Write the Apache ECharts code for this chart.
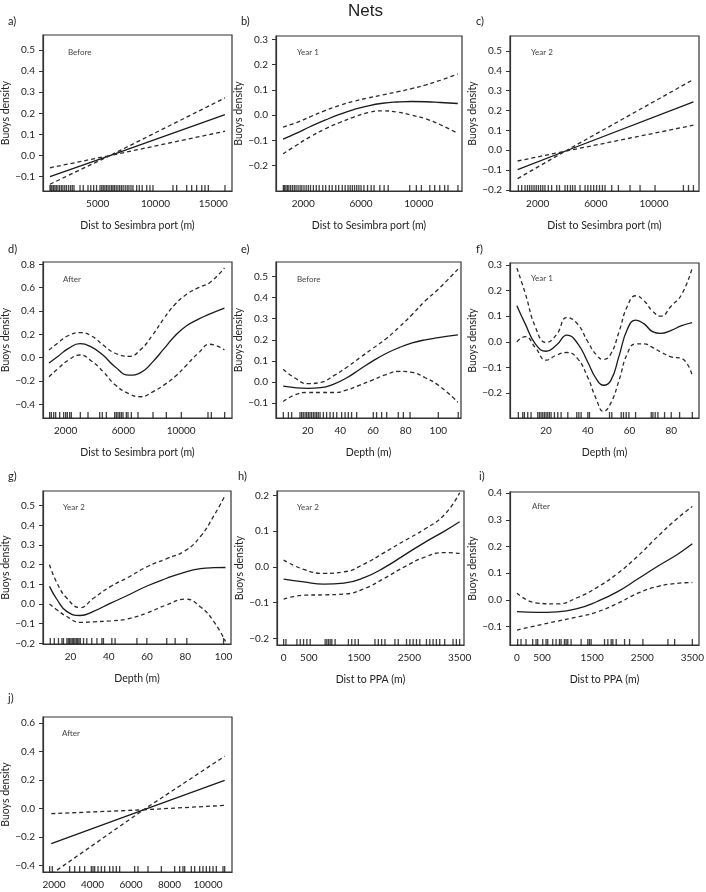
<!DOCTYPE html>
<html>
<head>
<meta charset="utf-8">
<title>Nets</title>
<script src="https://cdn.jsdelivr.net/npm/echarts@6/dist/echarts.min.js"></script>
<style>
  html, body { margin: 0; padding: 0; background: #fff; }
  #chart { width: 706px; height: 892px; }
</style>
</head>
<body>
<div id="chart"></div>
<script>
// ---- a) Dist to Sesimbra port, Before ----
const aX   = [870, 6060, 16010];
const aFit = [-0.100, 0.000, 0.194];
const aHi  = [-0.058, 0.000, 0.273];
const aLo  = [-0.136, 0.000, 0.115];
const aRug = [874, 960, 1050, 1180, 1300, 1420, 1560, 1700, 1850, 1990, 2150, 2300, 2480, 2650, 2800, 2950,
  3470, 3750, 4160, 4400, 4650, 4900, 5200, 5350, 5480, 5620, 5760, 5900, 6050, 6200, 6320, 6450, 6600,
  6750, 6900, 7050, 7200, 7380, 7550, 7700, 7880, 8050, 8370, 8600, 8850, 9240, 9520, 9780, 11510, 11830,
  12700, 13130, 13560, 14000, 14280, 14570, 16010];
const aXTicks = [5000, 10000, 15000];
const aYTicks = [-0.1, 0, 0.1, 0.2, 0.3, 0.4, 0.5];

// ---- b) Dist to Sesimbra port, Year 1 ----
const bX   = [600, 1500, 2500, 3500, 4500, 5500, 6500, 7500, 8500, 9500, 10500, 11500, 12700];
const bFit = [-0.095, -0.072, -0.045, -0.020, 0.003, 0.022, 0.037, 0.047, 0.052, 0.054, 0.053, 0.050, 0.046];
const bHi  = [-0.047, -0.030, -0.006, 0.018, 0.038, 0.055, 0.068, 0.080, 0.092, 0.105, 0.120, 0.138, 0.163];
const bLo  = [-0.153, -0.120, -0.085, -0.055, -0.030, -0.008, 0.010, 0.017, 0.012, 0.000, -0.015, -0.038, -0.072];
const bRug = [620, 700, 800, 900, 1000, 1120, 1250, 1380, 1500, 1640, 1780, 1900, 2050, 2200, 2350, 2500,
  2700, 2900, 3100, 3350, 3550, 3800, 4000, 4250, 4450, 4700, 4900, 5100, 5250, 5400, 5550, 5700, 5850,
  6000, 6200, 6450, 6700, 6900, 7300, 7600, 7880, 9370, 9830, 10180, 10760, 11100, 11450, 11790, 12020, 12710];
const bXTicks = [2000, 6000, 10000];
const bYTicks = [-0.2, -0.1, 0, 0.1, 0.2, 0.3];

// ---- c) Dist to Sesimbra port, Year 2 ----
const cX   = [620, 3880, 12710];
const cFit = [-0.097, -0.005, 0.243];
const cHi  = [-0.054, -0.005, 0.356];
const cLo  = [-0.143, -0.005, 0.126];
const cRug = [670, 900, 1130, 1300, 1450, 1600, 1750, 1900, 2050, 2200, 2350, 2500, 2730, 2960, 3310, 3500,
  3880, 4050, 4250, 4400, 4570, 4910, 5260, 5450, 5650, 5850, 6050, 6250, 6450, 6630, 7090, 7550, 8350,
  9040, 10070, 12020, 12370, 12710];
const cXTicks = [2000, 6000, 10000];
const cYTicks = [-0.2, -0.1, 0, 0.1, 0.2, 0.3, 0.4, 0.5];

// ---- d) Dist to Sesimbra port, After ----
const dX   = [850, 1500, 2200, 3000, 3800, 4600, 5400, 6400, 7200, 8000, 8800, 9600, 10400, 11200, 12000, 13000];
const dFit = [-0.045, 0.015, 0.080, 0.120, 0.090, 0.020, -0.075, -0.150, -0.128, -0.040, 0.075, 0.190, 0.275, 0.330, 0.375, 0.425];
const dHi  = [0.066, 0.130, 0.190, 0.215, 0.185, 0.108, 0.040, 0.012, 0.070, 0.190, 0.335, 0.460, 0.545, 0.600, 0.645, 0.770];
const dLo  = [-0.164, -0.090, -0.020, 0.023, -0.030, -0.120, -0.230, -0.310, -0.335, -0.295, -0.235, -0.160, -0.060, 0.040, 0.115, 0.066];
const dRug = [891, 1007, 1169, 1307, 1584, 1861, 2000, 2115, 2277, 2393, 3016, 3547, 4356, 4540, 4818, 5395,
  5510, 5626, 5741, 5857, 5972, 6203, 6319, 6550, 7012, 8051, 8975, 10014, 11861, 12092, 13016];
const dXTicks = [2000, 6000, 10000];
const dYTicks = [-0.4, -0.2, 0, 0.2, 0.4, 0.6, 0.8];

// ---- e) Depth, Before ----
const eX   = [5, 12, 20, 28, 36, 44, 52, 60, 68, 76, 84, 92, 100, 112];
const eFit = [-0.020, -0.027, -0.030, -0.027, -0.010, 0.020, 0.060, 0.100, 0.135, 0.163, 0.185, 0.200, 0.210, 0.223];
const eHi  = [0.060, 0.020, -0.008, -0.002, 0.030, 0.070, 0.115, 0.160, 0.205, 0.260, 0.320, 0.385, 0.440, 0.535];
const eLo  = [-0.093, -0.062, -0.050, -0.050, -0.050, -0.038, -0.015, 0.010, 0.035, 0.050, 0.045, 0.020, -0.015, -0.096];
const eRug = [5.1, 8.2, 10.2, 15.3, 16.3, 17.3, 18.4, 19.4, 20.4, 21.4, 22.4, 23.5, 24.5, 25.5, 26.5, 27.6,
  29.6, 31.6, 33.7, 35.7, 37.8, 40.8, 42.9, 44.9, 46.9, 50, 60.2, 62.2, 65.3, 68.4, 75.5, 78.6, 82.7, 100, 112.2];
const eXTicks = [20, 40, 60, 80, 100];
const eYTicks = [-0.1, 0, 0.1, 0.2, 0.3, 0.4, 0.5];

// ---- f) Depth, Year 1 ----
const fX   = [6, 10, 15, 20, 25, 30, 35, 40, 44, 47.5, 51, 55, 59, 63, 67, 71, 75, 80, 85, 90];
const fFit = [0.141, 0.070, -0.010, -0.037, -0.013, 0.026, -0.005, -0.080, -0.144, -0.170, -0.152, -0.055, 0.050, 0.085, 0.070, 0.040, 0.033, 0.045, 0.063, 0.075];
const fHi  = [0.288, 0.190, 0.055, -0.003, 0.028, 0.095, 0.070, 0.000, -0.050, -0.069, -0.048, 0.040, 0.140, 0.180, 0.160, 0.120, 0.100, 0.140, 0.185, 0.288];
const fLo  = [0.000, 0.020, -0.025, -0.072, -0.052, -0.042, -0.065, -0.140, -0.223, -0.272, -0.240, -0.150, -0.045, -0.008, -0.008, -0.022, -0.040, -0.059, -0.065, -0.131];
const fRug = [6.7, 8.8, 9.6, 11.2, 12.8, 16, 16.8, 17.6, 18.4, 19.2, 20, 20.8, 21.6, 22.4, 24, 25.6, 27.2,
  30.4, 34.7, 35.7, 36.8, 40, 40.8, 50.4, 51.5, 56, 57.1, 58.4, 59.7, 62.9, 70.4, 71.2, 72.3, 73.6, 76.8, 80, 84, 90.1];
const fXTicks = [20, 40, 60, 80];
const fYTicks = [-0.2, -0.1, 0, 0.1, 0.2, 0.3];

// ---- g) Depth, Year 2 ----
const gX   = [9, 13, 18, 25, 32, 41, 50, 60, 70, 80, 88, 95, 101];
const gFit = [0.090, 0.022, -0.037, -0.058, -0.037, 0.005, 0.045, 0.092, 0.130, 0.163, 0.180, 0.185, 0.186];
const gHi  = [0.200, 0.105, 0.031, -0.018, 0.030, 0.090, 0.135, 0.190, 0.230, 0.272, 0.345, 0.450, 0.556];
const gLo  = [0.000, -0.030, -0.063, -0.093, -0.090, -0.085, -0.075, -0.045, -0.005, 0.025, -0.015, -0.090, -0.190];
const gRug = [9.4, 11.5, 13.7, 15.5, 16.3, 18.1, 18.8, 19.5, 20.2, 20.9, 21.6, 22.3, 23, 23.7, 24.4, 25.1,
  26.8, 28.5, 31.1, 33.8, 36.4, 37.2, 41.6, 43.3, 54.7, 59.9, 70.3, 74.7, 80.8, 100];
const gXTicks = [20, 40, 60, 80, 100];
const gYTicks = [-0.2, -0.1, 0, 0.1, 0.2, 0.3, 0.4, 0.5];

// ---- h) Dist to PPA, Year 2 ----
const hX   = [0, 400, 800, 1200, 1600, 2000, 2400, 2800, 3200, 3500];
const hFit = [-0.034, -0.042, -0.048, -0.045, -0.030, -0.002, 0.033, 0.068, 0.100, 0.126];
const hHi  = [0.019, -0.007, -0.018, -0.014, 0.008, 0.040, 0.073, 0.105, 0.146, 0.207];
const hLo  = [-0.090, -0.079, -0.078, -0.076, -0.061, -0.032, 0.000, 0.027, 0.040, 0.038];
const hRug = [0, 46, 264, 330, 396, 462, 528, 826, 859, 892, 925, 958, 1024, 1288, 1354, 1420, 1486, 1816,
  1883, 1949, 2015, 2213, 2279, 2444, 2510, 2576, 2642, 2708, 2840, 2906, 2972, 3038, 3104, 3203, 3369, 3435, 3500];
const hXTicks = [0, 500, 1500, 2500, 3500];
const hYTicks = [-0.2, -0.1, 0, 0.1, 0.2];

// ---- i) Dist to PPA, After ----
const iX   = [0, 400, 800, 1200, 1600, 2000, 2400, 2800, 3200, 3500];
const iFit = [-0.044, -0.047, -0.045, -0.033, -0.006, 0.030, 0.077, 0.125, 0.170, 0.210];
const iHi  = [0.025, -0.012, -0.015, 0.008, 0.047, 0.098, 0.162, 0.236, 0.305, 0.350];
const iLo  = [-0.113, -0.096, -0.080, -0.064, -0.045, -0.014, 0.024, 0.050, 0.062, 0.065];
const iRug = [13, 80, 180, 313, 380, 413, 513, 580, 613, 713, 780, 847, 880, 947, 980, 1013, 1080, 1280,
  1413, 1447, 1480, 1747, 1813, 1880, 1913, 1980, 2147, 2247, 2513, 3013, 3147, 3500];
const iXTicks = [0, 500, 1500, 2500, 3500];
const iYTicks = [-0.1, 0, 0.1, 0.2, 0.3, 0.4];

// ---- j) After (x label cut off in the original) ----
const jX   = [1860, 6650, 10865];
const jFit = [-0.246, -0.008, 0.199];
const jHi  = [-0.035, -0.008, 0.368];
const jLo  = [-0.460, -0.008, 0.023];
const jRug = [1775, 1913, 2814, 3074, 3333, 3593, 3939, 4026, 4113, 4286, 4459, 4632, 4892, 5065, 5238, 5411,
  6190, 6364, 6883, 7576, 8268, 8528, 8701, 8788, 9134, 9307, 9567, 9740, 9913, 10087, 10260, 10433, 10779, 10866];
const jXTicks = [2000, 4000, 6000, 8000, 10000];
const jYTicks = [-0.4, -0.2, 0, 0.2, 0.4, 0.6];

const DIST = 'Dist to Sesimbra port (m)';
const DEPTH = 'Depth (m)';
const PPA = 'Dist to PPA (m)';

// panel layout: box = [left, top, width, height] in px
const panels = [
  { tag: 'a)', period: 'Before', x: aX, fit: aFit, hi: aHi, lo: aLo, rug: aRug, xt: aXTicks, yt: aYTicks, name: DIST,
    smooth: false, box: [43, 35, 189, 156], xr: [268, 16618], yr: [-0.168, 0.571], tagPos: [3, 11], perPos: [63, 43] },
  { tag: 'b)', period: 'Year 1', x: bX, fit: bFit, hi: bHi, lo: bLo, rug: bRug, xt: bXTicks, yt: bYTicks, name: DIST,
    smooth: true, box: [276, 36, 186, 155], xr: [111, 12991], yr: [-0.3, 0.313], tagPos: [236, 11], perPos: [292, 43] },
  { tag: 'c)', period: 'Year 2', x: cX, fit: cFit, hi: cHi, lo: cLo, rug: cRug, xt: cXTicks, yt: cYTicks, name: DIST,
    smooth: false, box: [510, 36, 189, 155], xr: [96, 13093], yr: [-0.205, 0.575], tagPos: [471, 11], perPos: [526, 43] },
  { tag: 'd)', period: 'After', x: dX, fit: dFit, hi: dHi, lo: dLo, rug: dRug, xt: dXTicks, yt: dYTicks, name: DIST,
    smooth: true, box: [43, 262, 189, 156], xr: [430, 13524], yr: [-0.517, 0.82], tagPos: [3, 239], perPos: [58, 270] },
  { tag: 'e)', period: 'Before', x: eX, fit: eFit, hi: eHi, lo: eLo, rug: eRug, xt: eXTicks, yt: eYTicks, name: DEPTH,
    smooth: true, box: [276, 262, 185, 156], xr: [0.6, 113.9], yr: [-0.171, 0.569], tagPos: [236, 239], perPos: [292, 270] },
  { tag: 'f)', period: 'Year 1', x: fX, fit: fFit, hi: fHi, lo: fLo, rug: fRug, xt: fXTicks, yt: fYTicks, name: DEPTH,
    smooth: true, box: [510, 263, 189, 155], xr: [2.7, 93.3], yr: [-0.298, 0.308], tagPos: [471, 239], perPos: [526, 269] },
  { tag: 'g)', period: 'Year 2', x: gX, fit: gFit, hi: gHi, lo: gLo, rug: gRug, xt: gXTicks, yt: gYTicks, name: DEPTH,
    smooth: true, box: [43, 491, 188, 153], xr: [5.6, 103.9], yr: [-0.203, 0.575], tagPos: [3, 466], perPos: [58, 498] },
  { tag: 'h)', period: 'Year 2', x: hX, fit: hFit, hi: hHi, lo: hLo, rug: hRug, xt: hXTicks, yt: hYTicks, name: PPA,
    smooth: true, box: [277, 491, 187, 154], xr: [-132, 3587], yr: [-0.218, 0.212], tagPos: [233, 466], perPos: [292, 498] },
  { tag: 'i)', period: 'After', x: iX, fit: iFit, hi: iHi, lo: iLo, rug: iRug, xt: iXTicks, yt: iYTicks, name: PPA,
    smooth: true, box: [510, 492, 189, 153], xr: [-140, 3633], yr: [-0.169, 0.404], tagPos: [474, 466], perPos: [527, 497] },
  { tag: 'j)', period: 'After', x: jX, fit: jFit, hi: jHi, lo: jLo, rug: jRug, xt: jXTicks, yt: jYTicks, name: '',
    smooth: false, box: [43, 717, 189, 155], xr: [1429, 11247], yr: [-0.445, 0.644], tagPos: [3, 688], perPos: [57, 724] }
];

const FONT = 'Lato, "Open Sans", sans-serif';
const INK = '#222';

function pairs(xs, ys) {
  return xs.map((v, k) => [v, ys[k]]);
}

function fmtY(v) {
  // R style labels with one decimal, true minus sign
  return (v < 0 ? '\u2212' : '') + Math.abs(v).toFixed(1);
}

function fmtX(v) {
  // plain integers, no thousands separator
  return String(v);
}

const grids = [], xAxes = [], yAxes = [], series = [];
const titles = [{
  text: 'Nets', left: 343, top: -2,
  textStyle: { fontFamily: '"Liberation Sans", Arial, sans-serif', fontSize: 17, fontWeight: 'normal', color: INK }
}];

panels.forEach((p, i) => {
  grids.push({
    left: p.box[0], top: p.box[1], width: p.box[2], height: p.box[3],
    show: true, borderColor: '#333', borderWidth: 1.2, backgroundColor: 'transparent',
    containLabel: false, outerBoundsMode: 'none'
  });
  xAxes.push({
    type: 'value', gridIndex: i, min: p.xr[0], max: p.xr[1],
    axisLine: { show: true, onZero: false, lineStyle: { color: '#333', width: 1.2 } },
    axisTick: { show: false },
    splitLine: { show: false },
    axisLabel: { customValues: p.xt, margin: 8, formatter: fmtX, fontFamily: FONT, fontSize: 10, color: INK },
    name: p.name, nameLocation: 'middle', nameGap: 29,
    nameTextStyle: { fontFamily: FONT, fontSize: 10.5, color: INK }
  });
  yAxes.push({
    type: 'value', gridIndex: i, min: p.yr[0], max: p.yr[1],
    axisLine: { show: true, onZero: false, lineStyle: { color: '#333', width: 1.2 } },
    axisTick: { show: true, length: 4, customValues: p.yt, lineStyle: { color: '#333' } },
    splitLine: { show: false },
    axisLabel: { customValues: p.yt, margin: 8, formatter: fmtY, fontFamily: FONT, fontSize: 10, color: INK },
    name: 'Buoys density', nameLocation: 'middle', nameGap: 30,
    nameTextStyle: { fontFamily: FONT, fontSize: 10.5, color: INK }
  });

  const base = { type: 'line', xAxisIndex: i, yAxisIndex: i, showSymbol: false, silent: true,
    smooth: p.smooth ? 0.5 : false, clip: true };
  // fitted smooth
  series.push(Object.assign({}, base, { data: pairs(p.x, p.fit),
    lineStyle: { color: '#1a1a1a', width: 1.3 } }));
  // +/- 2 se bands
  series.push(Object.assign({}, base, { data: pairs(p.x, p.hi),
    lineStyle: { color: '#2a2a2a', width: 1.3, type: [4, 3] } }));
  series.push(Object.assign({}, base, { data: pairs(p.x, p.lo),
    lineStyle: { color: '#2a2a2a', width: 1.3, type: [4, 3] } }));
  // rug of observations along the bottom
  series.push({
    type: 'scatter', xAxisIndex: i, yAxisIndex: i, silent: true, clip: false,
    data: p.rug.map(v => [v, p.yr[0]]),
    symbol: 'rect', symbolSize: [1.3, 6], symbolOffset: [0, -3],
    itemStyle: { color: '#111' }
  });

  titles.push({ text: p.tag, left: p.tagPos[0], top: p.tagPos[1],
    textStyle: { fontFamily: FONT, fontSize: 11, fontWeight: 'normal', color: INK } });
  titles.push({ text: p.period, left: p.perPos[0], top: p.perPos[1],
    textStyle: { fontFamily: FONT, fontSize: 8, fontWeight: 'normal', color: '#444' } });
});

const chart = echarts.init(document.getElementById('chart'), null, { renderer: 'canvas' });
chart.setOption({
  animation: false,
  backgroundColor: '#fff',
  title: titles,
  grid: grids,
  xAxis: xAxes,
  yAxis: yAxes,
  series: series
});
</script>
</body>
</html>
